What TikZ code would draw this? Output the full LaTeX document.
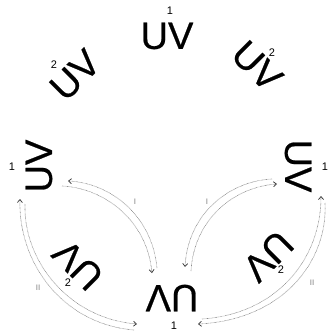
\documentclass[tikz,border=0pt]{standalone}
\usepackage{fontspec}
\setmainfont{Liberation Sans}
\newfontfamily\uvfont[FakeBold=0.6]{Liberation Sans}
\usetikzlibrary{arrows.meta}
\begin{document}
\begin{tikzpicture}[x=1pt,y=-1pt,
  uv/.style={inner sep=0pt, font=\uvfont\fontsize{38}{38}\selectfont},
  num/.style={inner sep=0pt, font=\fontsize{11}{11}\selectfont},
  lab/.style={inner sep=0pt, text=gray, font=\fontsize{8}{8}\selectfont},
  conn/.style={gray, line width=0.6pt, dash pattern=on 0.6pt off 0.7pt,
    -{Straight Barb[length=3pt,width=5pt,color=black!80,line width=0.7pt]}},
]
\useasboundingbox (0,0) rectangle (327,334);

% rotated words
\node[uv, rotate=0]    (top) at (167,36)  {UV};
\node[uv, rotate=45]   (ul)  at (75,75)   {UV};
\node[uv, rotate=-45]  (ur)  at (257,66)  {UV};
\node[uv, rotate=90]   (lft) at (39,166)  {UV};
\node[uv, rotate=-90]  (rgt) at (298,166) {UV};
\node[uv, rotate=180]  (bot) at (172,298) {UV};
\node[uv, rotate=135]  (ll)  at (78,265)  {UV};
\node[uv, rotate=-135] (lr)  at (268,256) {UV};

% numbers
\node[num] (ntop) at (170,11)  {1};
\node[num] (nul)  at (54,65)   {2};
\node[num] (nur)  at (272,53)  {2};
\node[num] (nlft) at (12,167)  {1};
\node[num] (nrgt) at (325,167) {1};
\node[num] (nbot) at (174,326) {1};
\node[num] (nll)  at (68,283)  {2};
\node[num] (nlr)  at (281,270) {2};

% connector end points
\coordinate (aOs) at (157,268); \coordinate (aOe) at (68,181);
\coordinate (aIs) at (62,186);  \coordinate (aIe) at (152,273);
\coordinate (bOs) at (272,179); \coordinate (bOe) at (185,267);
\coordinate (bIs) at (191,271); \coordinate (bIe) at (277,184);
\coordinate (cOs) at (134,330); \coordinate (cOe) at (20,199);
\coordinate (cIs) at (25,204);  \coordinate (cIe) at (137,324);
\coordinate (dOs) at (325,203); \coordinate (dOe) at (198,324);
\coordinate (dIs) at (202,319); \coordinate (dIe) at (321,196);

% connectors
\draw[conn] (aOs) .. controls (152,215) and (110,183) .. (aOe);
\draw[conn] (aIs) .. controls (104,188) and (147,220) .. (aIe);
\draw[conn] (bOs) .. controls (230,181) and (188,213) .. (bOe);
\draw[conn] (bIs) .. controls (194,219) and (234,187) .. (bIe);
\draw[conn] (cOs) .. controls (62,324) and (18,262) .. (cOe);
\draw[conn] (cIs) .. controls (23,258) and (66,318) .. (cIe);
\draw[conn] (dOs) .. controls (328,262) and (282,320) .. (dOe);
\draw[conn] (dIs) .. controls (276,314) and (321,260) .. (dIe);

% connector labels
\node[lab] (lA) at (135,202) {I};
\node[lab] (lB) at (207,202) {I};
\node[lab] (lC) at (38,288)  {II};
\node[lab] (lD) at (312,283) {II};
\end{tikzpicture}
\end{document}
